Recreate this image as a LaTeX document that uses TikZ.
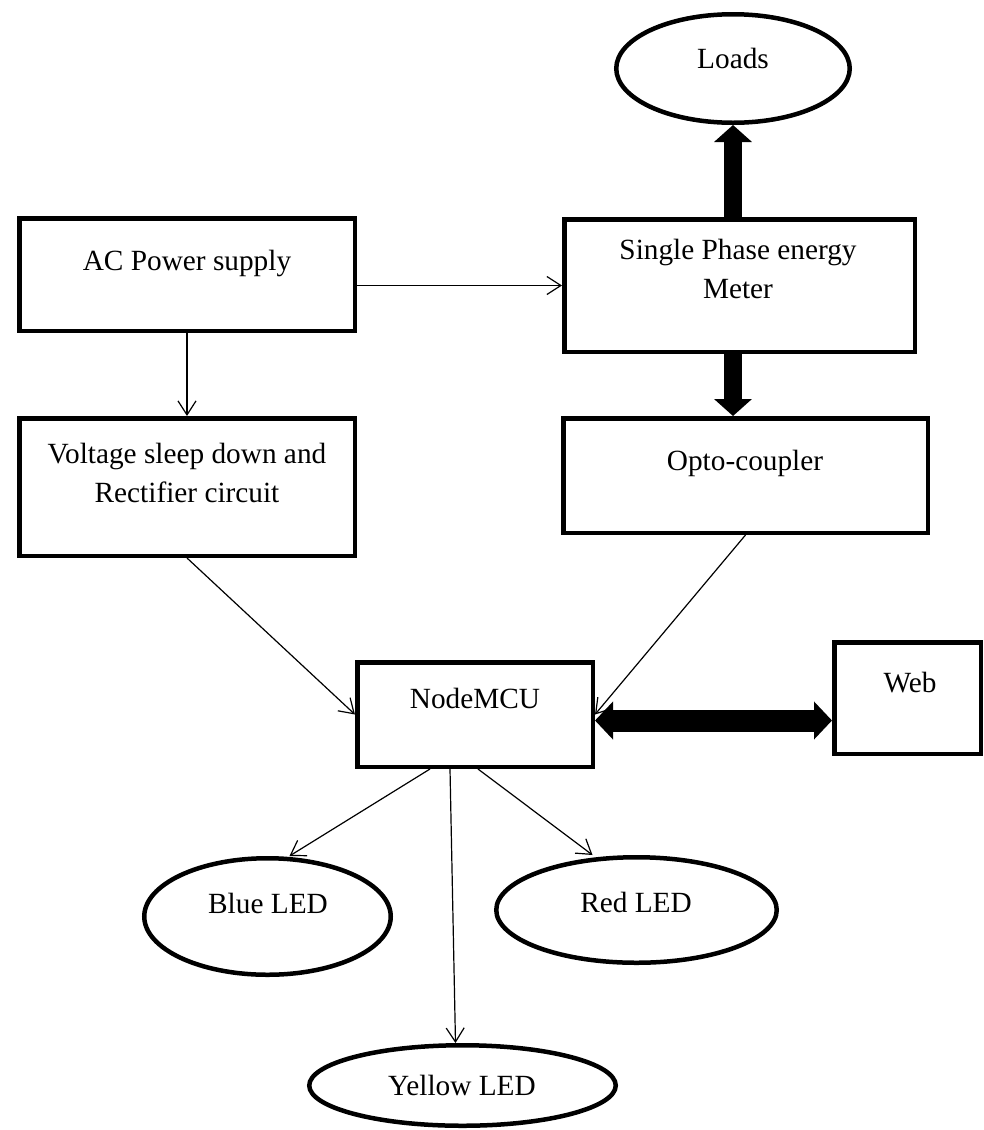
\documentclass[tikz,border=0pt]{standalone}
\usepackage{fontspec}
\setmainfont{Liberation Serif}
\usetikzlibrary{arrows.meta,shapes.geometric}

\tikzset{
    blk/.style={draw, rectangle, line width=4.5pt, inner sep=0},
    oval/.style={draw, ellipse, line width=4.5pt, inner sep=0},
    txt/.style={inner sep=0, align=center, anchor=base, font=\fontsize{29.3}{39}\selectfont},
    lnk/.style={line width=1.2pt, -{Straight Barb[length=14pt,width=18pt]}},
    fatarrow/.style={line width=18pt, -{Triangle[width=37pt,length=17pt]}},
}

\begin{document}
\begin{tikzpicture}[x=1pt, y=-1pt]
    \useasboundingbox (0,0) rectangle (984,1130);

    \draw(733, 68.5) node [oval, minimum width=233.5pt, minimum height=108.5pt](loads){};
    \draw(739.5, 285.5) node [blk, minimum width=350.5pt, minimum height=132.5pt](meter){};
    \draw(187, 274.5) node [blk, minimum width=335.5pt, minimum height=112.5pt](ac){};
    \draw(187, 487) node [blk, minimum width=335.5pt, minimum height=137.5pt](volt){};
    \draw(745.5, 475.5) node [blk, minimum width=364.5pt, minimum height=114.5pt](opto){};
    \draw(475, 714.5) node [blk, minimum width=235.5pt, minimum height=104.5pt](mcu){};
    \draw(907.5, 698) node [blk, minimum width=146.5pt, minimum height=111.5pt](web){};

    \draw(267.5, 916.5) node [oval, minimum width=246.5pt, minimum height=116.5pt](blue){};
    \draw(636.5, 910) node [oval, minimum width=280.5pt, minimum height=105.5pt](red){};
    \draw(462.5, 1085.5) node [oval, minimum width=306.5pt, minimum height=80.5pt](yellow){};

    % texts (base of the last line)
    \draw(733, 68) node [txt](tloads){Loads};
    \draw(738, 298) node [txt](tmeter){Single Phase energy\\Meter};
    \draw(187, 270) node [txt](tac){AC Power supply};
    \draw(187, 502) node [txt](tvolt){Voltage sleep down and\\Rectifier circuit};
    \draw(745, 470) node [txt](topto){Opto-coupler};
    \draw(475, 708) node [txt](tmcu){NodeMCU};
    \draw(910, 692) node [txt](tweb){Web};
    \draw(268, 913) node [txt](tblue){Blue LED};
    \draw(636, 912) node [txt](tred){Red LED};
    \draw(462, 1095) node [txt](tyellow){Yellow LED};

    \draw[lnk] (ac.east |- meter.west) -- (meter.west);
    \draw[lnk] (ac.south) -- (volt.north);
    \draw[lnk] (volt.south) -- (mcu.west);
    \draw[lnk] (opto.south) -- (mcu.east);

    \coordinate (m1) at (loads.south |- meter.south);
    \draw[fatarrow] (loads.south |- meter.north) -- (loads.south);
    \draw[fatarrow] (m1) -- (m1 |- opto.north);

    \coordinate (w1) at ([yshift=-6pt]mcu.east);
    \draw[line width=22pt, {Triangle[width=37pt,length=18pt]}-{Triangle[width=37pt,length=18pt]}] (w1) -- (w1 -| web.west);

    \draw[lnk] ([xshift=-45pt]mcu.south) -- ([xshift=22pt]blue.north);
    \draw[lnk] ([xshift=-25pt]mcu.south) -- ([xshift=-7pt]yellow.north);
    \draw[lnk] ([xshift=3pt]mcu.south) -- ([xshift=-44pt]red.north);
\end{tikzpicture}
\end{document}
